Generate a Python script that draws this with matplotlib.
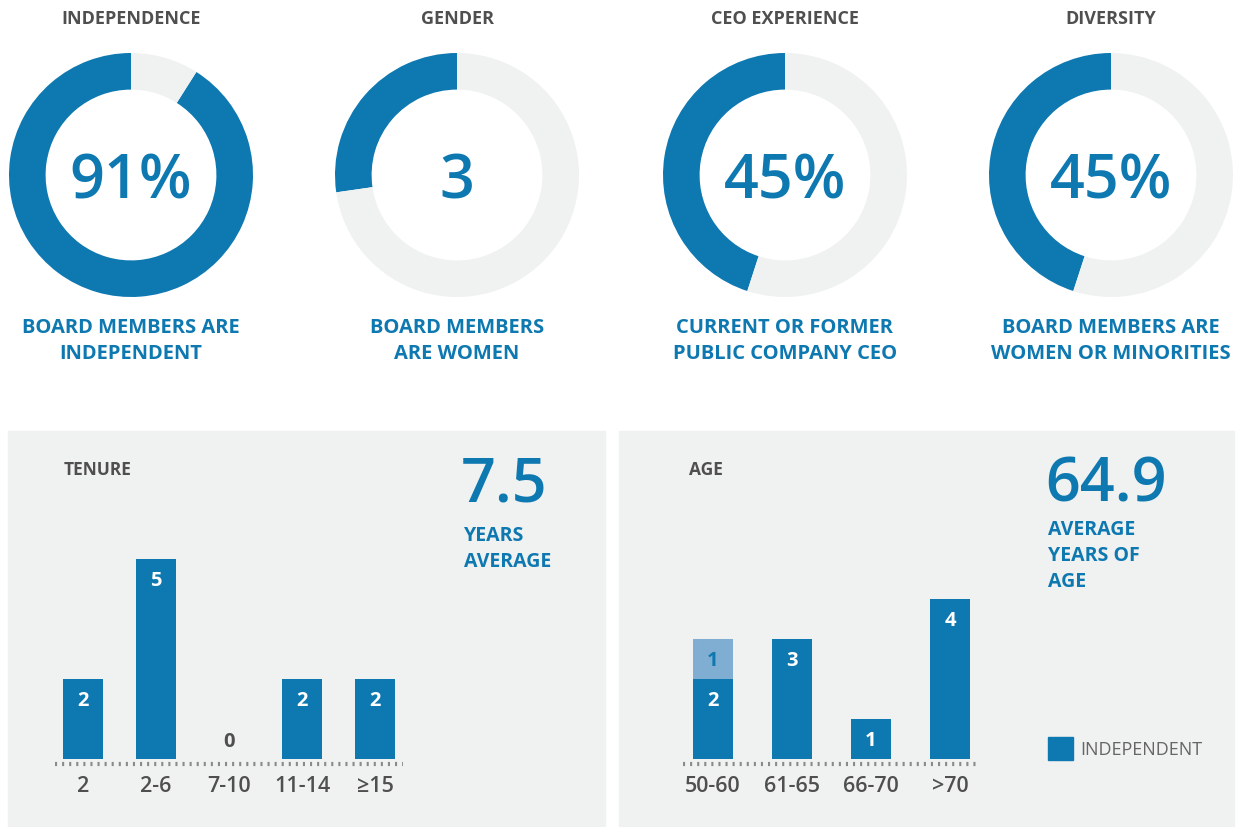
import matplotlib.pyplot as plt
from matplotlib.patches import Rectangle

plt.rcParams['font.family'] = ['Open Sans', 'DejaVu Sans']

# donut data
donut_titles = ['INDEPENDENCE', 'GENDER', 'CEO EXPERIENCE', 'DIVERSITY']
donut_shares = [91, 3 / 11 * 100, 45, 45]
donut_labels = ['91%', '3', '45%', '45%']
donut_captions = [['BOARD MEMBERS ARE', 'INDEPENDENT'],
                  ['BOARD MEMBERS', 'ARE WOMEN'],
                  ['CURRENT OR FORMER', 'PUBLIC COMPANY CEO'],
                  ['BOARD MEMBERS ARE', 'WOMEN OR MINORITIES']]

# tenure data
tenure_cats = ['2', '2-6', '7-10', '11-14', '\u226515']
tenure_vals = [2, 5, 0, 2, 2]
tenure_avg = '7.5'
tenure_avg_lines = ['YEARS', 'AVERAGE']

# age data
age_cats = ['50-60', '61-65', '66-70', '>70']
age_indep = [2, 3, 1, 4]
age_other = [1, 0, 0, 0]
age_avg = '64.9'
age_avg_lines = ['AVERAGE', 'YEARS OF', 'AGE']

BLUE = '#0e78b1'
LIGHT = '#80add2'
RING = '#f0f1f1'
PANEL = '#f0f1f1'
DARK = '#4f4f4f'

W, H = 1240, 827
fig = plt.figure(figsize=(12.4, 8.27), dpi=100)
fig.patch.set_facecolor('white')


def px_axes(x0, y0, w, h):
    return fig.add_axes([x0 / W, 1 - (y0 + h) / H, w / W, h / H])


def txt(x, y, s, **kw):
    fig.text(x / W, 1 - y / H, s, **kw)


# panels (behind everything)
fig.patches.append(Rectangle((8 / W, 0), (605 - 8) / W, (827 - 431) / H,
                             transform=fig.transFigure, color=PANEL, zorder=-2))
fig.patches.append(Rectangle((619 / W, 0), (1234 - 619) / W, (827 - 431) / H,
                             transform=fig.transFigure, color=PANEL, zorder=-2))

# donuts
centers = [131, 457, 785, 1111]
R = 122
for cx, title, share, lab, cap in zip(centers, donut_titles, donut_shares, donut_labels, donut_captions):
    ax = px_axes(cx - R, 175 - R, 2 * R, 2 * R)
    ax.pie([share, 100 - share], startangle=90, colors=[BLUE, RING],
           wedgeprops=dict(width=0.3, linewidth=0))
    ax.set_xlim(-1, 1)
    ax.set_ylim(-1, 1)
    ax.set_aspect('equal')
    ax.text(0, -0.06, lab, ha='center', va='center', fontsize=44,
            fontweight='semibold', color=BLUE)
    txt(cx, 19, title, ha='center', va='center', fontsize=13, fontweight='bold', color=DARK)
    for i, line in enumerate(cap):
        txt(cx, 328 + 26 * i, line, ha='center', va='center', fontsize=14.5,
            fontweight='bold', color=BLUE)


def style_bar_axes(ax, cats):
    ax.set_facecolor('none')
    for s in ax.spines.values():
        s.set_visible(False)
    ax.set_yticks([])
    ax.set_xticks(range(len(cats)))
    ax.set_xticklabels(cats, fontsize=15.5, fontweight='semibold', color=DARK)
    ax.tick_params(axis='x', length=0, pad=12)
    ax.hlines(-0.12, -0.38, len(cats) - 1 + 0.38, colors='#8a8a8a',
              linestyles=(0, (0.5, 1.2)), linewidth=3, clip_on=False)
    ax.set_ylim(0, 5.5)
    ax.set_xlim(-0.5, len(cats) - 0.5)


# tenure
ax = px_axes(46.5, 539, 365, 220)
ax.bar(range(len(tenure_cats)), tenure_vals, width=0.54, color=BLUE)
style_bar_axes(ax, tenure_cats)
for i, v in enumerate(tenure_vals):
    if v > 0:
        ax.text(i, v - 0.55, str(v), ha='center', va='center', color='white',
                fontsize=14.5, fontweight='bold')
    else:
        ax.text(i, 0.43, str(v), ha='center', va='center', color=DARK,
                fontsize=14.5, fontweight='bold')
txt(64, 470, 'TENURE', ha='left', va='center', fontsize=12.5, fontweight='bold', color=DARK)
txt(461, 485, tenure_avg, ha='left', va='center', fontsize=44, fontweight='semibold', color=BLUE)
for i, line in enumerate(tenure_avg_lines):
    txt(464, 536 + 26 * i, line, ha='left', va='center', fontsize=14, fontweight='bold', color=BLUE)

# age
ax = px_axes(673.5, 539, 316, 220)
ax.bar(range(len(age_cats)), age_indep, width=0.5, color=BLUE)
ax.bar(range(len(age_cats)), age_other, bottom=age_indep, width=0.5, color=LIGHT)
style_bar_axes(ax, age_cats)
for i, (a, b) in enumerate(zip(age_indep, age_other)):
    ax.text(i, a - 0.55, str(a), ha='center', va='center', color='white',
            fontsize=14.5, fontweight='bold')
    if b > 0:
        ax.text(i, a + b - 0.55, str(b), ha='center', va='center', color=BLUE,
                fontsize=14.5, fontweight='bold')
txt(689, 470, 'AGE', ha='left', va='center', fontsize=12.5, fontweight='bold', color=DARK)
txt(1045, 485, age_avg, ha='left', va='center', fontsize=44, fontweight='semibold', color=BLUE)
for i, line in enumerate(age_avg_lines):
    txt(1048, 530 + 26 * i, line, ha='left', va='center', fontsize=14, fontweight='bold', color=BLUE)

# legend
fig.patches.append(Rectangle((1048 / W, 1 - 760 / H), 25 / W, 23 / H,
                             transform=fig.transFigure, color=BLUE, zorder=1))
txt(1080, 750, 'INDEPENDENT', ha='left', va='center', fontsize=13, color='#666666')

fig.savefig('out.png', dpi=100)
